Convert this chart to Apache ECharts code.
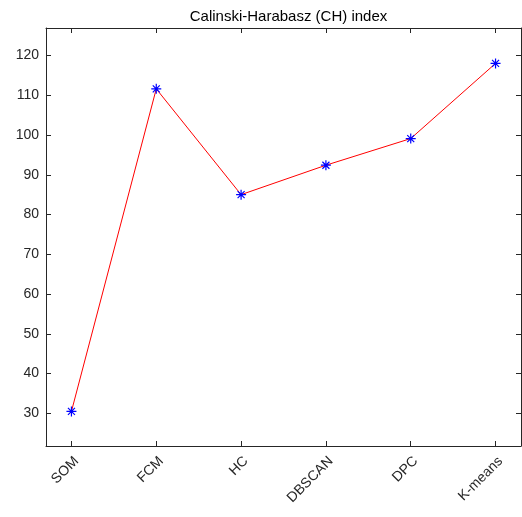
<!DOCTYPE html>
<html>
<head>
<meta charset="utf-8">
<script src="https://cdn.jsdelivr.net/npm/echarts@6/dist/echarts.min.js"></script>
<style>
html,body{margin:0;padding:0;background:#fff;}
#chart{width:522px;height:517px;}
</style>
</head>
<body>
<div id="chart"></div>
<script>
const categories = ['SOM', 'FCM', 'HC', 'DBSCAN', 'DPC', 'K-means'];
const chValues = [30.5, 111.6, 85.0, 92.4, 99.1, 118.0];
const yTicks = [30, 40, 50, 60, 70, 80, 90, 100, 110, 120];
const xTicks = [1, 2, 3, 4, 5, 6];

const seriesData = chValues.map((v, i) => [i + 1, v]);
const axisColor = '#262626';
const fontFamily = 'Liberation Sans, Arial, Helvetica, sans-serif';
const asterisk = 'path://M0,5L10,5M5,0L5,10M1.5,1.5L8.5,8.5M8.5,1.5L1.5,8.5';

const chart = echarts.init(document.getElementById('chart'), null, {renderer: 'canvas'});
const baseX = {
  type: 'value', min: 0.7, max: 6.3,
  axisLine: {show: true, onZero: false, lineStyle: {color: axisColor, width: 1}},
  splitLine: {show: false}
};
const baseY = {
  type: 'value', min: 21.8, max: 126.9,
  axisLine: {show: true, onZero: false, lineStyle: {color: axisColor, width: 1}},
  splitLine: {show: false}
};
chart.setOption({
  animation: false,
  backgroundColor: '#ffffff',
  title: {
    text: 'Calinski-Harabasz (CH) index',
    left: 283.5, top: 4, textAlign: 'center',
    textStyle: {fontFamily, fontSize: 15, fontWeight: 'normal', color: '#000'}
  },
  grid: {left: 46, top: 28, right: 1, bottom: 71, containLabel: false},
  xAxis: [
    Object.assign({}, baseX, {
      position: 'bottom',
      axisTick: {show: true, inside: true, length: 5, customValues: xTicks, lineStyle: {color: axisColor}},
      axisLabel: {
        show: true, customValues: xTicks, rotate: 45, margin: 8,
        verticalAlign: 'top',
        fontFamily, fontSize: 14, color: axisColor,
        formatter: v => categories[Math.round(v) - 1] || ''
      }
    }),
    Object.assign({}, baseX, {
      position: 'top',
      axisTick: {show: true, inside: true, length: 5, customValues: xTicks, lineStyle: {color: axisColor}},
      axisLabel: {show: false}
    })
  ],
  yAxis: [
    Object.assign({}, baseY, {
      position: 'left',
      axisTick: {show: true, inside: true, length: 5, customValues: yTicks, lineStyle: {color: axisColor}},
      axisLabel: {show: true, customValues: yTicks, margin: 7, fontFamily, fontSize: 14, color: axisColor}
    }),
    Object.assign({}, baseY, {
      position: 'right',
      axisTick: {show: true, inside: true, length: 5, customValues: yTicks, lineStyle: {color: axisColor}},
      axisLabel: {show: false}
    })
  ],
  series: [{
    type: 'line',
    xAxisIndex: 0, yAxisIndex: 0,
    data: seriesData,
    symbol: asterisk,
    symbolSize: 10,
    showAllSymbol: true,
    lineStyle: {color: '#ff0000', width: 1},
    itemStyle: {color: 'none', borderColor: '#0000ff', borderWidth: 1.2},
    emphasis: {disabled: true}
  }]
});
</script>
</body>
</html>
